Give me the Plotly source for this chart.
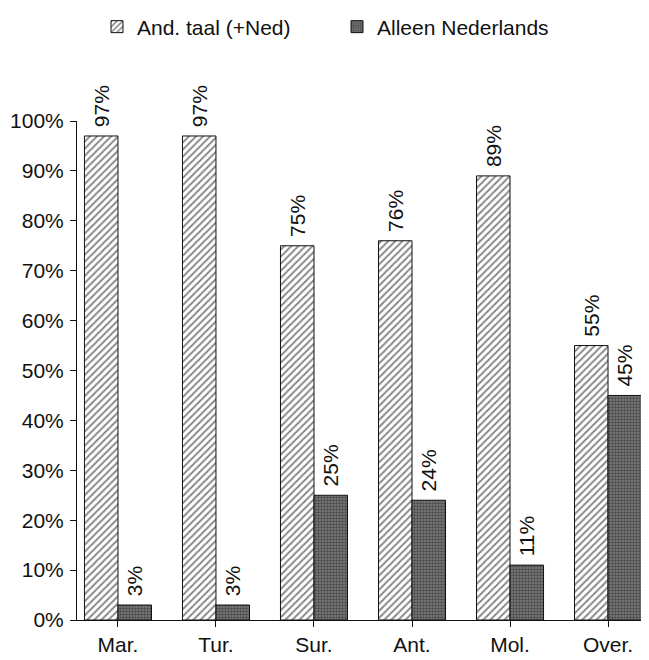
import plotly.graph_objects as go

categories = ["Mar.", "Tur.", "Sur.", "Ant.", "Mol.", "Over."]
and_taal = [97, 97, 75, 76, 89, 55]
alleen_ned = [3, 3, 25, 24, 11, 45]
series_names = ["And. taal (+Ned)", "Alleen Nederlands"]
y_ticks = [0, 10, 20, 30, 40, 50, 60, 70, 80, 90, 100]
y_tick_labels = [f"{v}%" for v in y_ticks]

FONT = "Liberation Sans, Arial, Helvetica, sans-serif"
INK = "#111"
W, H = 641, 652  # page body has an 8px margin

fig = go.Figure()
fig.add_trace(go.Bar(
    x=categories, y=and_taal, name=series_names[0],
    text=[f"\u00a0{v}%" for v in and_taal], textposition="outside", textangle=-90,
    cliponaxis=False, constraintext="none",
    textfont=dict(family=FONT, size=21, color=INK),
    marker=dict(color="white", line=dict(color=INK, width=1),
                pattern=dict(shape="/", fgcolor=INK, bgcolor="white", size=5, solidity=0.4)),
))
fig.add_trace(go.Bar(
    x=categories, y=alleen_ned, name=series_names[1],
    text=[f"\u00a0{v}%" for v in alleen_ned], textposition="outside", textangle=-90,
    cliponaxis=False, constraintext="none",
    textfont=dict(family=FONT, size=21, color=INK),
    marker=dict(color="#555", line=dict(color=INK, width=1),
                pattern=dict(shape=".", fgcolor="#151515", bgcolor="#808080", size=3, solidity=0.55)),
))

fig.update_layout(
    width=W, height=H,
    margin=dict(l=69, r=0, t=113, b=40, autoexpand=False),
    paper_bgcolor="white", plot_bgcolor="white",
    barmode="group", bargap=0.316, bargroupgap=0,
    font=dict(family=FONT, size=21, color=INK),
    legend=dict(orientation="h", x=89 / W, xanchor="left", xref="container",
                y=1 - 19 / H, yanchor="middle", yref="container",
                font=dict(family=FONT, size=21, color=INK),
                entrywidth=195, entrywidthmode="pixels", bgcolor="rgba(0,0,0,0)"),
    showlegend=True,
)
fig.update_xaxes(
    type="category", range=[-0.418, 5.418],
    showline=True, linecolor=INK, linewidth=1,
    ticks="outside", ticklen=6, tickcolor=INK,
    showgrid=False, tickfont=dict(family=FONT, size=21, color=INK),
)
fig.update_yaxes(
    range=[0, 100], tickvals=y_ticks, ticktext=y_tick_labels,
    showline=True, linecolor=INK, linewidth=1,
    ticks="outside", ticklen=6, tickcolor=INK, ticklabelstandoff=2,
    showgrid=False, zeroline=False, tickfont=dict(family=FONT, size=21, color=INK),
)

fig.write_html("out.html")
